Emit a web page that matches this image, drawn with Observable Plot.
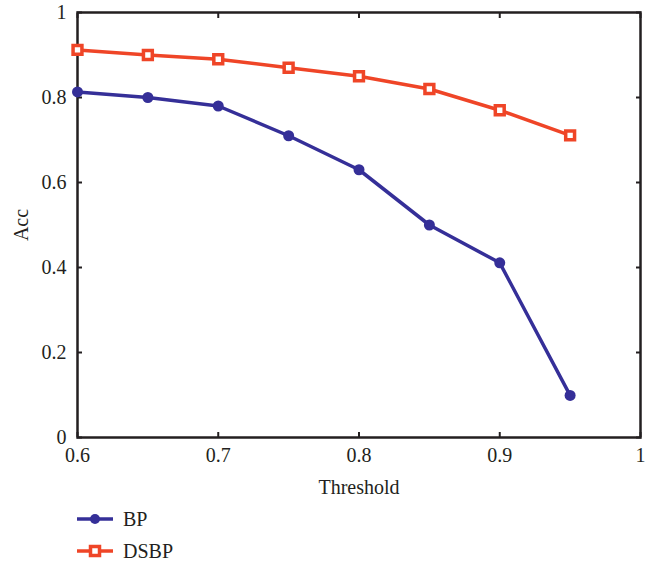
<!DOCTYPE html>
<html>
<head>
<meta charset="utf-8">
<script src="https://cdn.jsdelivr.net/npm/d3@7"></script>
<script src="https://cdn.jsdelivr.net/npm/@observablehq/plot@0.6"></script>
<style>
  body { margin: 0; background: #fff; font-family: "Liberation Serif", "DejaVu Serif", serif; }
  #legend { position: relative; height: 67px; width: 658px; }
  .item { position: absolute; left: 77px; display: flex; align-items: center; font-size: 20px; color: #231f20; }
  .item svg { margin-right: 10px; }
</style>
</head>
<body>
<div id="chart"></div>
<div id="legend"></div>
<script>
const thresholds = [0.6, 0.65, 0.7, 0.75, 0.8, 0.85, 0.9, 0.95];
const bpAcc = [0.813, 0.800, 0.780, 0.710, 0.630, 0.500, 0.411, 0.099];
const dsbpAcc = [0.912, 0.900, 0.890, 0.870, 0.850, 0.820, 0.770, 0.711];
const seriesNames = ["BP", "DSBP"];
const seriesColors = ["#352f98", "#ef4527"];
const xTicks = [0.6, 0.7, 0.8, 0.9, 1];
const yTicks = [0, 0.2, 0.4, 0.6, 0.8, 1];

const bp = thresholds.map((t, i) => ({x: t, y: bpAcc[i]}));
const dsbp = thresholds.map((t, i) => ({x: t, y: dsbpAcc[i]}));
const ink = "#231f20";

const chart = Plot.plot({
  width: 658,
  height: 500,
  marginTop: 12,
  marginLeft: 77,
  marginRight: 18,
  marginBottom: 63,
  style: {fontFamily: "Liberation Serif, serif", fontSize: "20px", color: ink, background: "white"},
  x: {domain: [0.6, 1]},
  y: {domain: [0, 1]},
  marks: [
    Plot.axisX({ticks: xTicks, tickSize: -5, tickPadding: 15, tickFormat: d => String(d), label: "Threshold", labelAnchor: "center", labelArrow: "none", labelOffset: 56, stroke: ink, strokeWidth: 2}),
    Plot.axisX({anchor: "top", ticks: xTicks, tickSize: -5, text: null, label: null, stroke: ink, strokeWidth: 2}),
    Plot.axisY({ticks: yTicks, tickSize: -5, tickPadding: 16, tickFormat: d => String(d), label: "Acc", labelAnchor: "center", labelArrow: "none", labelOffset: 64, stroke: ink, strokeWidth: 2}),
    Plot.axisY({anchor: "right", ticks: yTicks, tickSize: -5, text: null, label: null, stroke: ink, strokeWidth: 2}),
    Plot.frame({stroke: ink, strokeWidth: 2.5}),
    Plot.line(dsbp, {x: "x", y: "y", stroke: seriesColors[1], strokeWidth: 3.5}),
    Plot.dot(dsbp, {x: "x", y: "y", symbol: "square", r: 5, stroke: seriesColors[1], strokeWidth: 3.5, fill: "white"}),
    Plot.line(bp, {x: "x", y: "y", stroke: seriesColors[0], strokeWidth: 3.5}),
    Plot.dot(bp, {x: "x", y: "y", r: 5.5, fill: seriesColors[0]})
  ]
});
document.getElementById("chart").appendChild(chart);

const legend = document.getElementById("legend");
seriesNames.forEach((name, i) => {
  const div = document.createElement("div");
  div.className = "item";
  div.style.top = (i === 0 ? 7 : 39) + "px";
  const c = seriesColors[i];
  const marker = i === 0
    ? `<circle cx="18" cy="12" r="5" fill="${c}"/>`
    : `<rect x="13.5" y="7.5" width="9" height="9" fill="white" stroke="${c}" stroke-width="3.5"/>`;
  div.innerHTML = `<svg width="36" height="24"><line x1="0" x2="36" y1="12" y2="12" stroke="${c}" stroke-width="3.5"/>${marker}</svg><span>${name}</span>`;
  legend.appendChild(div);
});
</script>
</body>
</html>
